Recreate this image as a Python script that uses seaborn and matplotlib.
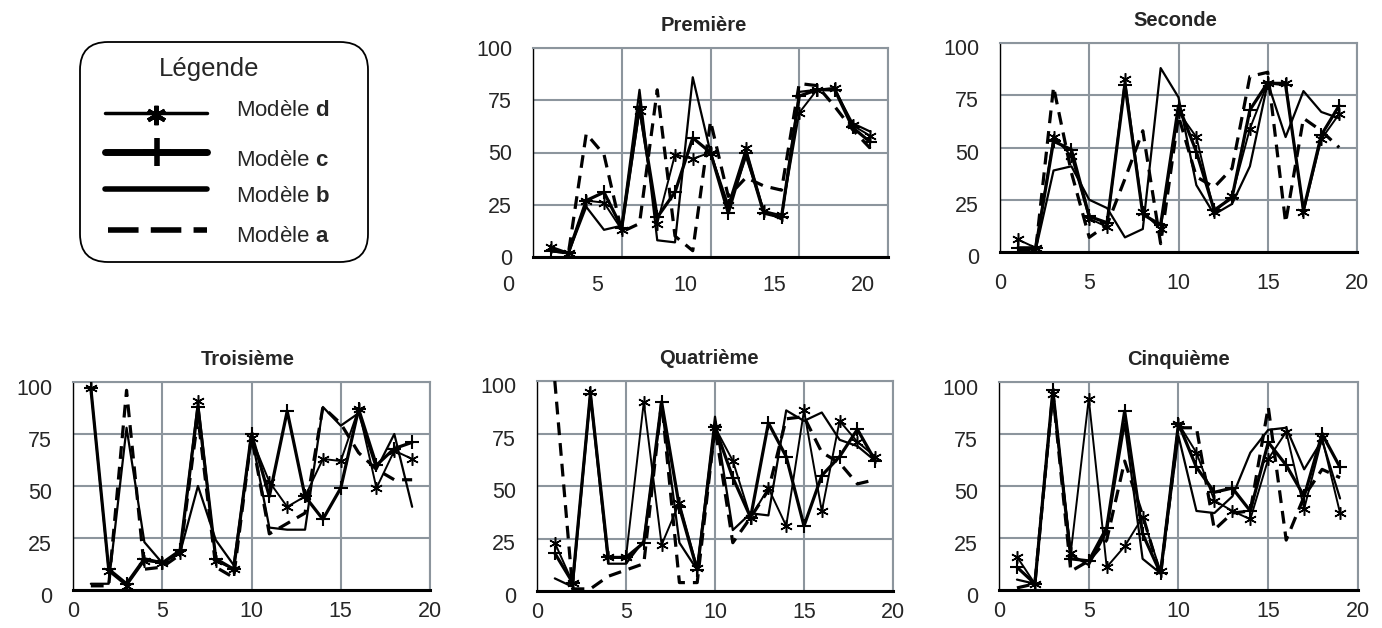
import matplotlib
matplotlib.use("Agg")
import matplotlib.pyplot as plt
import matplotlib.transforms as mtransforms
from matplotlib.patches import FancyBboxPatch
import seaborn as sns
import pandas as pd

sns.set_style("white")
plt.rcParams["font.family"] = ["Liberation Sans", "DejaVu Sans"]
plt.rcParams["mathtext.fontset"] = "custom"
plt.rcParams["mathtext.rm"] = "Liberation Sans"
plt.rcParams["mathtext.bf"] = "Liberation Sans:bold"

# x positions 1..19
steps = list(range(1, 20))

# Première
prem_d = [5, 2, 27, 26, 13, 70, 16, 49, 47, 50, 25, 52, 22, 20, 69, 80, 81, 63, 58]
prem_c = [3, 2, 27, 31, 14, 72, 19, 31, 57, 50, 21, 50, 21, 19, 77, 80, 80, 62, 55]
prem_b = [3, 2, 24, 13, 15, 80, 8, 7, 86, 50, 23, 48, 22, 18, 79, 80, 80, 64, 60]
prem_a = [3, 2, 59, 49, 12, 16, 80, 10, 3, 65, 29, 38, 34, 32, 83, 82, 72, 61, 52]

# Seconde
sec_d = [6, 2, 55, 46, 16, 12, 83, 19, 11, 67, 55, 19, 27, 59, 81, 81, 19, 54, 66]
sec_c = [2, 2, 53, 49, 17, 14, 80, 18, 13, 70, 48, 20, 26, 68, 81, 80, 20, 56, 70]
sec_b = [2, 1, 39, 41, 25, 21, 7, 11, 88, 74, 32, 18, 23, 41, 81, 55, 77, 67, 64]
sec_a = [1, 1, 79, 38, 7, 13, 35, 58, 4, 65, 36, 31, 40, 84, 86, 14, 64, 58, 50]

# Troisième
tro_d = [97, 9, 2, 14, 13, 18, 91, 14, 10, 73, 52, 40, 45, 63, 62, 87, 49, 67, 63]
tro_c = [97, 10, 3, 15, 13, 19, 88, 15, 10, 75, 45, 86, 45, 34, 49, 87, 60, 68, 71]
tro_b = [3, 3, 78, 23, 13, 18, 50, 24, 12, 74, 30, 29, 29, 88, 79, 85, 58, 75, 40]
tro_a = [2, 2, 96, 10, 11, 17, 83, 11, 6, 74, 27, 32, 37, 88, 80, 66, 58, 53, 53]

# Quatrième
qua_d = [23, 4, 95, 16, 16, 90, 22, 42, 11, 78, 62, 35, 49, 31, 86, 38, 81, 71, 64]
qua_c = [18, 4, 94, 16, 16, 23, 90, 40, 10, 78, 54, 35, 80, 64, 31, 55, 64, 77, 62]
qua_b = [6, 2, 93, 13, 13, 24, 88, 23, 10, 83, 29, 37, 36, 86, 81, 85, 72, 69, 62]
qua_a = [100, 1, 1, 7, 10, 13, 90, 4, 4, 78, 23, 35, 48, 82, 83, 66, 61, 51, 53]

# Cinquième
cin_d = [16, 3, 94, 18, 92, 11, 21, 35, 9, 80, 66, 43, 38, 34, 63, 76, 39, 73, 37]
cin_c = [11, 3, 96, 15, 14, 30, 86, 27, 8, 80, 59, 47, 49, 38, 71, 60, 45, 75, 59]
cin_b = [5, 3, 95, 17, 12, 28, 80, 15, 8, 74, 38, 37, 45, 66, 77, 78, 58, 72, 44]
cin_a = [1, 3, 95, 9, 14, 24, 62, 36, 7, 78, 78, 29, 37, 38, 88, 24, 45, 58, 54]

titles = ["Première", "Seconde", "Troisième", "Quatrième", "Cinquième"]
panel_series = [
    (prem_d, prem_c, prem_b, prem_a),
    (sec_d, sec_c, sec_b, sec_a),
    (tro_d, tro_c, tro_b, tro_a),
    (qua_d, qua_c, qua_b, qua_a),
    (cin_d, cin_c, cin_b, cin_a),
]
models = ["d", "c", "b", "a"]

rows = []
for title, series in zip(titles, panel_series):
    for model, vals in zip(models, series):
        for x, v in zip(steps, vals):
            rows.append({"panel": title, "model": model, "x": x, "val": v})
df = pd.DataFrame(rows)

W, H = 1382, 628
fig = plt.figure(figsize=(W / 100, H / 100), dpi=100)

# axes boxes in pixels: left, top, right, bottom
boxes = {
    "Première": (533, 48, 888, 257),
    "Seconde": (1000, 43, 1357, 252),
    "Troisième": (73, 382, 430, 590),
    "Quatrième": (537, 381, 893, 591),
    "Cinquième": (999, 382, 1358, 590),
}
xpads = {"Première": 13, "Seconde": 15, "Troisième": 8, "Quatrième": 8, "Cinquième": 8}
# small downward nudge (px) of the y labels
ynudge = {"Première": 0, "Seconde": 4, "Troisième": 5, "Quatrième": 4, "Cinquième": 5}
title_dx = {"Première": -7, "Seconde": -3, "Troisième": -4, "Quatrième": -6, "Cinquième": 0}

styles = {
    "d": dict(lw=1.4, marker=(6, 2, 0), ms=9, mew=1.1, ls="-"),
    "c": dict(lw=2.3, marker="+", ms=10, mew=1.5, ls="-"),
    "b": dict(lw=1.6, marker=None, ls="-"),
    "a": dict(lw=2.3, marker=None, ls=(0, (4, 2.5))),
}
grid_col = "#8c959d"

for title in titles:
    l, t, r, b = boxes[title]
    ax = fig.add_axes([l / W, 1 - b / H, (r - l) / W, (b - t) / H])
    sub = df[df["panel"] == title]
    for model in ["a", "b", "c", "d"]:
        st = styles[model]
        sns.lineplot(data=sub[sub["model"] == model], x="x", y="val", ax=ax,
                     color="black", linewidth=st["lw"], linestyle=st["ls"],
                     marker=st["marker"], markersize=st.get("ms", 0),
                     markeredgewidth=st.get("mew", 0), markeredgecolor="black",
                     legend=False, zorder=3)
    ax.set_xlim(0, 20)
    ax.set_ylim(0, 100)
    ax.set_xticks([0, 5, 10, 15, 20])
    ax.set_yticks([0, 25, 50, 75, 100])
    ax.grid(True, color=grid_col, lw=1.5)
    ax.set_axisbelow(True)
    ax.set_xlabel("")
    ax.set_ylabel("")
    for s in ["top", "right"]:
        ax.spines[s].set_color(grid_col)
        ax.spines[s].set_linewidth(1.5)
    ax.spines["left"].set_color("black")
    ax.spines["left"].set_linewidth(1.0)
    ax.spines["bottom"].set_color("black")
    ax.spines["bottom"].set_linewidth(2.2)
    ax.tick_params(axis="y", length=3, width=1, pad=12, labelsize=15.5, color="black")
    ax.tick_params(axis="x", length=0, pad=xpads[title], labelsize=15.5)
    ax.set_title(title, fontsize=14.5, fontweight="bold", pad=12)
    ax.title.set_transform(ax.title.get_transform() +
                           mtransforms.ScaledTranslation(title_dx[title] / 100, 0, fig.dpi_scale_trans))
    ydown = mtransforms.ScaledTranslation(0, -ynudge[title] / 100, fig.dpi_scale_trans)
    for lab in ax.get_yticklabels():
        lab.set_transform(lab.get_transform() + ydown)
    if title == "Première":
        # labels of this panel sit left of their gridlines
        shift = mtransforms.ScaledTranslation(-0.25, 0, fig.dpi_scale_trans)
        for lab in ax.get_xticklabels():
            lab.set_transform(lab.get_transform() + shift)

# legend box drawn in pixel units
lg = fig.add_axes([0, 0, 1, 1], zorder=-1)
lg.set_xlim(0, W)
lg.set_ylim(H, 0)
lg.axis("off")
lg.add_patch(FancyBboxPatch((80, 42), 288, 220, boxstyle="round,pad=0,rounding_size=28",
                            fc="white", ec="black", lw=1.3))
lg.text(209, 69, "Légende", fontsize=18.5, ha="center", va="center")
lg.plot([105, 207], [113, 113], color="black", lw=2.5)
lg.plot([156], [115], marker=(6, 2, 0), ms=14, mew=3, color="black")
lg.plot([105, 207], [152, 152], color="black", lw=5)
lg.plot([157], [152], marker="+", ms=20, mew=4, color="black")
lg.plot([105, 207], [189, 189], color="black", lw=4)
lg.plot([108, 207], [230, 230], color="black", lw=4, ls=(0, (5.5, 2.2)))
legend_rows = [("d", 110), ("c", 160), ("b", 196), ("a", 237)]
for letter, y in legend_rows:
    lg.text(236, y, "Modèle $\\mathbf{" + letter + "}$", fontsize=16, ha="left", va="center")

fig.savefig("out.png", dpi=100)
